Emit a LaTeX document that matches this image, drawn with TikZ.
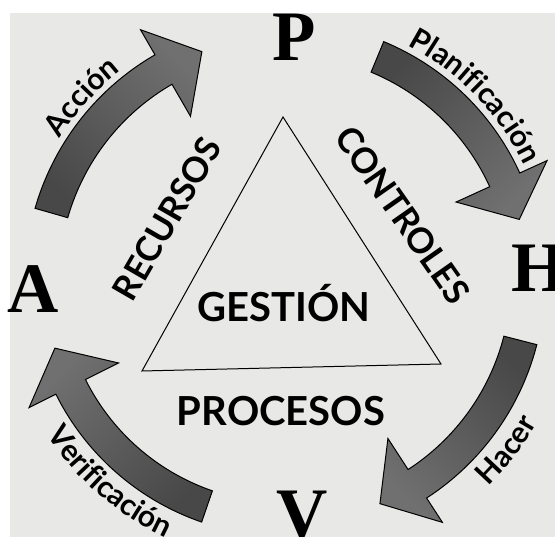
\documentclass[tikz,border=0pt]{standalone}
\usepackage{fontspec}
\usepackage{tikz}
\usetikzlibrary{decorations.text}
\setmainfont{Liberation Serif}
\newfontfamily\etiq{Lato}

\definecolor{fondo}{RGB}{232,232,230}
\definecolor{oscuro}{RGB}{72,72,72}
\definecolor{claro}{RGB}{112,112,112}

\tikzset{
  letra/.style={font=\fontsize{71}{71}\selectfont\bfseries, inner sep=0pt},
  lado/.style={font=\etiq\bfseries\fontsize{35}{35}\selectfont, inner sep=0pt},
  centro/.style={font=\etiq\bfseries\fontsize{40}{40}\selectfont, inner sep=0pt},
  flecha/.style={draw=black, line width=1pt, shading=axis, top color=oscuro, bottom color=claro, shading angle=#1},
  rotulo/.style={decorate, decoration={text along path, text align=center, text={|\etiq\bfseries\fontsize{30}{30}\selectfont|#1}}}
}

\begin{document}
\begin{tikzpicture}[x=1pt,y=1pt]
\useasboundingbox (-285,-257) rectangle (270,280);
\fill[white] (-285,-257) rectangle (270,280);
\fill[fondo] (-275,-257) rectangle (270,267);

% letras del ciclo
\node[letra] (p) at (9,243) {P};
\node[letra] (h) at (254,12) {H};
\node[letra] (v) at (17,-235) {V};
\node[letra] (a) at (-252,-9) {A};

% flechas
\draw[flecha=135] (164:260) arc[start angle=164, end angle=120, radius=260] -- (120:289) -- (110:243) -- (120:189) -- (120:226) arc[start angle=120, end angle=164, radius=226] -- cycle;
\draw[flecha=45] (67.5:258) arc[start angle=67.5, end angle=24.5, radius=258] -- (24.5:288) -- (14.5:242) -- (24.5:188) -- (24.5:225) arc[start angle=24.5, end angle=67.5, radius=225] -- cycle;
\draw[flecha=-45] (-14.4:260) arc[start angle=-14.4, end angle=-57, radius=260] -- (-57:289) -- (-67:243) -- (-57:189) -- (-57:226) arc[start angle=-57, end angle=-14.4, radius=226] -- cycle;
\draw[flecha=225] (251:256) arc[start angle=251, end angle=206.5, radius=256] -- (206.5:286) -- (196.5:240) -- (206.5:186) -- (206.5:223) arc[start angle=206.5, end angle=251, radius=223] -- cycle;

% rotulos de las flechas
\path[rotulo=Acción] (158:266) arc[start angle=158, end angle=118, radius=266];
\path[rotulo=Planificación] (74:265) arc[start angle=74, end angle=14, radius=265];
\path[rotulo=Hacer] (-60:290) arc[start angle=-60, end angle=-15, radius=290];
\path[rotulo=Verificación] (199:284) arc[start angle=199, end angle=259, radius=284];

% triangulo
\coordinate (cima) at (-2,163);
\coordinate (izq) at (-143,-91);
\coordinate (der) at (156,-84);
\draw[line width=1pt] (cima) -- (izq) -- (der) -- cycle;

\node[lado, rotate=60] (recursos) at (-118,61) {RECURSOS};
\node[lado, rotate=-55] (controles) at (118,65) {CONTROLES};
\node[centro, anchor=base] (gestion) at (-1,-42) {GESTIÓN};
\node[centro, anchor=base] (procesos) at (-4,-146) {PROCESOS};
\end{tikzpicture}
\end{document}
